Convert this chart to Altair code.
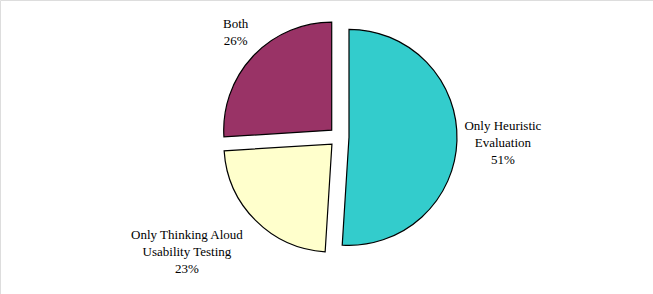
import math
import altair as alt
import pandas as pd

# ---- data ----
categories = ["Only Heuristic\nEvaluation", "Only Thinking Aloud\nUsability Testing", "Both"]
values = [51, 23, 26]
colors = ["#33CCCC", "#FFFFCC", "#993366"]

df = pd.DataFrame({"cat": categories, "value": values, "order": list(range(len(categories)))})

# ---- layout constants (style) ----
CX, CY = 339, 137      # pie centre in px
R = 108                # pie radius
EXPLODE = 10           # explode distance
LR = 150               # label anchor radius
TWO_PI = 2 * math.pi

base = (
    alt.Chart(df)
    .transform_window(end="sum(value)", sort=[alt.SortField("order")], frame=[None, 0])
    .transform_joinaggregate(total="sum(value)")
    .transform_calculate(start="datum.end - datum.value")
    .transform_calculate(mid=f"(datum.start + datum.end) / 2 / datum.total * {TWO_PI}")
    .transform_calculate(
        px=f"{CX} + {EXPLODE} * sin(datum.mid)",
        py=f"{CY} - {EXPLODE} * cos(datum.mid)",
        lx=f"{CX} + {LR} * sin(datum.mid)",
        ly=f"{CY} - {LR} * cos(datum.mid)",
        label="datum.cat + '\\n' + datum.value + '%'",
    )
)

arcs = base.mark_arc(radius=R, stroke="black", strokeWidth=1.2).encode(
    x=alt.X("px:Q", scale=None, axis=None),
    y=alt.Y("py:Q", scale=None, axis=None),
    theta=alt.Theta("start:Q", scale=alt.Scale(domain=[0, 100], range=[0, TWO_PI])),
    theta2="end:Q",
    color=alt.Color("cat:N", scale=alt.Scale(domain=categories, range=colors), legend=None),
)

font = "Liberation Serif"
offsets = {
    categories[0]: (14, -16),
    categories[1]: (-46, -8),
    categories[2]: (6, -10.5),
}
texts = []
for c in categories:
    dx, dy = offsets[c]
    texts.append(
        base.transform_filter(alt.datum.cat == c)
        .mark_text(font=font, fontSize=13, lineBreak="\n", lineHeight=17,
                   align="center", baseline="middle", color="black", dx=dx, dy=dy)
        .encode(
            x=alt.X("lx:Q", scale=None, axis=None),
            y=alt.Y("ly:Q", scale=None, axis=None),
            text="label:N",
        )
    )

chart = (
    alt.layer(arcs, *texts)
    .properties(width=653, height=294, autosize=alt.AutoSizeParams(type="none"), padding=0)
    .configure_view(stroke=None)
    .configure(background="white")
)

chart.save("out.html", embed_options={"renderer": "svg", "actions": False})
